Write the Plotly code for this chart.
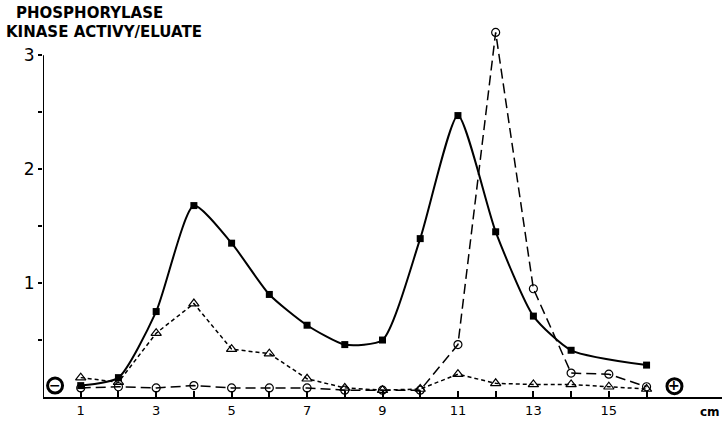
import plotly.graph_objects as go

fractions = list(range(1, 17))

sq_x = [1, 2, 3, 4, 5, 6, 7, 8, 9, 10, 11, 12, 13, 14, 16]
sq_y = [0.10, 0.17, 0.75, 1.68, 1.35, 0.90, 0.63, 0.46, 0.50, 1.39, 2.47, 1.45, 0.71, 0.41, 0.28]

circ_x = list(range(1, 17))
circ_y = [0.08, 0.09, 0.08, 0.10, 0.08, 0.08, 0.08, 0.06, 0.06, 0.06, 0.46, 3.20, 0.95, 0.21, 0.20, 0.09]

tri_x = list(range(1, 17))
tri_y = [0.17, 0.13, 0.56, 0.82, 0.42, 0.38, 0.16, 0.08, 0.06, 0.07, 0.20, 0.12, 0.11, 0.11, 0.09, 0.07]

ytick_vals = [0.5, 1, 1.5, 2, 2.5, 3]
ytick_text = ["", "1", "", "2", "", "3"]
xtick_vals = fractions
xtick_text = [str(v) if v % 2 == 1 else "" for v in fractions]

electrodes = [("−", 0.32, 0.10), ("+", 16.74, 0.095)]

FONT = "DejaVu Sans"

fig = go.Figure()
fig.add_trace(go.Scatter(
    x=circ_x, y=circ_y, mode="lines+markers",
    line=dict(color="black", width=1.5, dash="10px,5px"),
    marker=dict(symbol="circle-open", size=8, color="black", line=dict(width=1.2)),
    cliponaxis=False, showlegend=False))
fig.add_trace(go.Scatter(
    x=tri_x, y=tri_y, mode="lines+markers",
    line=dict(color="black", width=1.5, dash="4px,3px"),
    marker=dict(symbol="triangle-up-open", size=9, color="black", line=dict(width=1.2)),
    cliponaxis=False, showlegend=False))
fig.add_trace(go.Scatter(
    x=sq_x, y=sq_y, mode="lines+markers",
    line=dict(color="black", width=2, shape="spline", smoothing=0.6),
    marker=dict(symbol="square", size=7, color="black"),
    cliponaxis=False, showlegend=False))

# y axis line from 0 to 3
fig.add_shape(type="line", x0=0, x1=0, y0=0, y1=3, xref="x", yref="y",
              line=dict(color="black", width=2))

for sign, ex, ey in electrodes:
    fig.add_shape(type="circle", xref="x", yref="y", xsizemode="pixel", ysizemode="pixel",
                  xanchor=ex, yanchor=ey, x0=-7.5, x1=7.5, y0=-7.5, y1=7.5,
                  line=dict(color="black", width=3), fillcolor="white")
    fig.add_annotation(x=ex, y=ey, text="<b>" + sign + "</b>", showarrow=False,
                       yshift=1, font=dict(family=FONT, size=14, color="black"))

fig.add_annotation(xref="paper", yref="paper", x=1.0, y=0, yshift=-15,
                   xanchor="right", yanchor="middle", text="<b>cm</b>", showarrow=False,
                   font=dict(family=FONT, size=12, color="black"))

fig.add_annotation(xref="paper", yref="paper", x=-0.043, y=1.0, yshift=8,
                   xanchor="left", yanchor="middle", text="<b>PHOSPHORYLASE</b>",
                   showarrow=False, font=dict(family=FONT, size=15, color="black"))
fig.add_annotation(xref="paper", yref="paper", x=-0.058, y=1.0, yshift=-11,
                   xanchor="left", yanchor="middle", text="<b>KINASE ACTIVY/ELUATE</b>",
                   showarrow=False, font=dict(family=FONT, size=15, color="black"))

fig.update_layout(
    width=725, height=423,
    margin=dict(l=43, r=3, t=21, b=26),
    paper_bgcolor="white", plot_bgcolor="white",
    xaxis=dict(range=[0, 18], showgrid=False, zeroline=False,
               showline=True, linecolor="black", linewidth=2,
               tickmode="array", tickvals=xtick_vals, ticktext=xtick_text,
               ticks="inside", ticklen=6, tickwidth=1.5, tickcolor="black",
               tickfont=dict(family=FONT, size=13, color="black")),
    yaxis=dict(range=[0, 3.3], showgrid=False, zeroline=False, showline=False,
               tickmode="array", tickvals=ytick_vals, ticktext=ytick_text,
               ticks="outside", ticklen=4, tickwidth=1.5, tickcolor="black",
               tickfont=dict(family=FONT, size=17, color="black")),
)

fig.write_html("out.html", config={"displayModeBar": False},
               post_script="document.body.style.margin='0';")
